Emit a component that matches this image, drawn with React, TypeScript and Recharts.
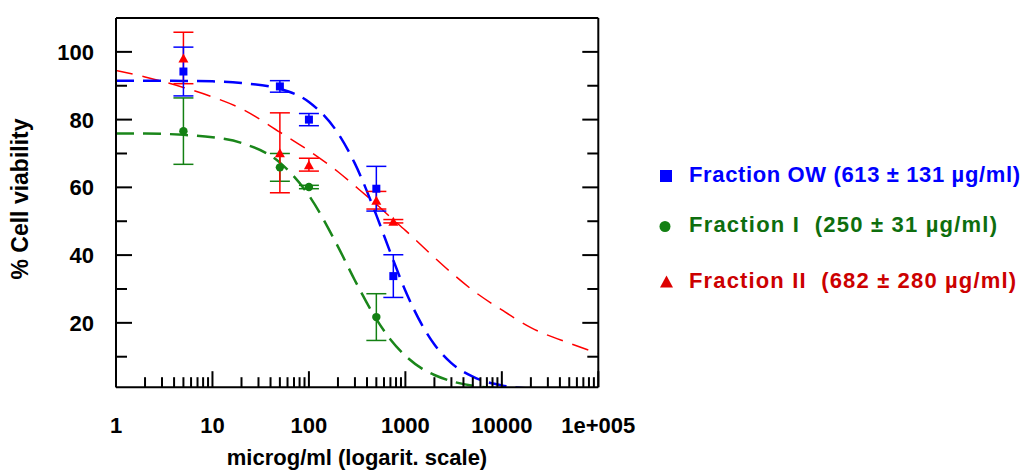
import {
  ComposedChart,
  Line,
  Scatter,
  ErrorBar,
  XAxis,
  YAxis,
  Legend,
} from "recharts";

const FONT = '"Liberation Sans", Arial, Helvetica, sans-serif';

// axis ticks
const xTicks = [
  1, 2, 3, 4, 5, 6, 7, 8, 9,
  10, 20, 30, 40, 50, 60, 70, 80, 90,
  100, 200, 300, 400, 500, 600, 700, 800, 900,
  1000, 2000, 3000, 4000, 5000, 6000, 7000, 8000, 9000,
  10000, 20000, 30000, 40000, 50000, 60000, 70000, 80000, 90000,
  100000,
];
const decadeLabels: Record<number, string> = {
  1: "1",
  10: "10",
  100: "100",
  1000: "1000",
  10000: "10000",
  100000: "1e+005",
};
const yTicks = [10, 20, 30, 40, 50, 60, 70, 80, 90, 100];
const yLabeled = [20, 40, 60, 80, 100];

// fitted curves
const curveX = [1, 2, 5, 10, 20, 50, 100, 200, 300, 500, 700, 1000, 1500, 2000, 3000, 5000, 10000, 20000, 50000, 100000];
const owCurve = [91.5, 91.5, 91.4, 91.3, 90.8, 89.1, 85.2, 76.0, 67.0, 51.8, 40.7, 29.5, 19.2, 13.6, 8.1, 4.1, 1.5, 0.6, 0.15, 0.05];
const frIcurve = [75.9, 75.9, 75.5, 74.8, 73.1, 67.3, 57.6, 42.5, 32.5, 21.1, 15.1, 10.3, 6.4, 4.6, 2.8, 1.4, 0.6, 0.24, 0.08, 0.03];
const frIIcurve = [94.5, 92.6, 89.5, 86.7, 83.2, 76.3, 70.8, 64.6, 60.4, 55.0, 51.2, 47.3, 42.6, 39.3, 34.8, 29.6, 23.8, 18.6, 14.0, 11.0];

// measured points
const owDose = [5, 50, 100, 500, 750];
const owMean = [94.2, 89.8, 80.0, 59.6, 33.8];
const owErr = [7.2, 1.7, 1.8, 6.6, 6.3];

const frIDose = [5, 50, 100, 500];
const frIMean = [76.6, 65.9, 60.1, 21.7];
const frIErr = [9.8, 4.1, 0.5, 6.9];

const frIIDose = [5, 50, 100, 500, 750];
const frIIMean = [98.2, 70.2, 66.7, 56.2, 50.0];
const frIIErr = [7.6, 11.8, 1.9, 2.6, 0.5];

const BLUE = "#0000ff";
const GREEN = "#1a861a";
const RED = "#ff0000";

const legendItems = [
  { name: "Fraction OW (613 ± 131 µg/ml)", color: "#0000ff", marker: "square", len: 331 },
  { name: "Fraction I  (250 ± 31 µg/ml)", color: "#0e6e0e", marker: "circle", len: 308 },
  { name: "Fraction II  (682 ± 280 µg/ml)", color: "#cc0000", marker: "triangle", len: 327 },
];
const legendMarkerColors = [BLUE, "#138013", "#dd0000"];

const toCurve = (ys: number[]) => curveX.map((x, i) => ({ x, y: ys[i] }));
const toPoints = (xs: number[], ys: number[], es: number[]) =>
  xs.map((x, i) => ({ x, y: ys[i], e: es[i] }));

const labelStyle = { fontFamily: FONT, fontWeight: 700, fontSize: 22, fill: "#000" };

const BottomTick = (p: any) => {
  const v = p.payload.value;
  const major = decadeLabels[v] !== undefined;
  return (
    <g>
      <line x1={p.x} x2={p.x} y1={p.y} y2={p.y - (major ? 16 : 10)} stroke="#000" strokeWidth={2} />
      {major && (
        <text x={p.x} y={p.y + 46} textAnchor="middle" style={labelStyle}>
          {decadeLabels[v]}
        </text>
      )}
    </g>
  );
};

const TopTick = (p: any) => {
  const major = decadeLabels[p.payload.value] !== undefined;
  return <line x1={p.x} x2={p.x} y1={p.y} y2={p.y + (major ? 16 : 10)} stroke="#000" strokeWidth={2} />;
};

const LeftTick = (p: any) => {
  const v = p.payload.value;
  const major = yLabeled.includes(v);
  return (
    <g>
      <line x1={p.x} x2={p.x + (major ? 16 : 11)} y1={p.y} y2={p.y} stroke="#000" strokeWidth={2} />
      {major && (
        <text x={p.x - 22} y={p.y + 8} textAnchor="end" style={labelStyle}>
          {v}
        </text>
      )}
    </g>
  );
};

const RightTick = (p: any) => {
  const major = yLabeled.includes(p.payload.value);
  return <line x1={p.x} x2={p.x - (major ? 16 : 11)} y1={p.y} y2={p.y} stroke="#000" strokeWidth={2} />;
};

const squareShape = (s: number, color: string) => (p: any) =>
  <rect x={p.cx - s / 2} y={p.cy - s / 2} width={s} height={s} fill={color} />;
const circleShape = (r: number, color: string) => (p: any) =>
  <circle cx={p.cx} cy={p.cy} r={r} fill={color} />;
const triangleShape = (w: number, h: number, color: string) => (p: any) =>
  <polygon points={`${p.cx},${p.cy - h / 2} ${p.cx + w / 2},${p.cy + h / 2} ${p.cx - w / 2},${p.cy + h / 2}`} fill={color} />;

const LegendBox = () => (
  <svg width={386} height={160}>
    {legendItems.map((it, i) => {
      const cy = [26, 76.5, 132][i];
      const base = [32.3, 82, 137.5][i];
      const mc = legendMarkerColors[i];
      return (
        <g key={it.name}>
          {it.marker === "square" && <rect x={20} y={cy - 6} width={12} height={12} fill={mc} />}
          {it.marker === "circle" && <circle cx={25} cy={cy} r={5.5} fill={mc} />}
          {it.marker === "triangle" && (
            <polygon points={`26.5,${cy - 6.5} 33,${cy + 5.5} 20,${cy + 5.5}`} fill={mc} />
          )}
          <text
            x={49}
            y={base}
            textLength={it.len}
            lengthAdjust="spacing"
            style={{ fontFamily: FONT, fontWeight: 700, fontSize: 22, fill: it.color, whiteSpace: "pre" }}
          >
            {it.name}
          </text>
        </g>
      );
    })}
  </svg>
);

export default function App() {
  return (
    <div style={{ position: "absolute", left: 0, top: 0, width: 1026, height: 474 }}>
      <ComposedChart
        width={1026}
        height={474}
        margin={{ top: 17, right: 426.7, bottom: 85.8, left: 115 }}
      >
        <XAxis
          dataKey="x"
          type="number"
          scale="log"
          domain={[1, 100000]}
          allowDataOverflow
          ticks={xTicks}
          interval={0}
          height={1}
          tickSize={0}
          tickMargin={0}
          tickLine={false}
          axisLine={{ stroke: "#000", strokeWidth: 2 }}
          tick={<BottomTick />}
        />
        <XAxis
          xAxisId="top"
          orientation="top"
          type="number"
          scale="log"
          domain={[1, 100000]}
          allowDataOverflow
          ticks={xTicks}
          interval={0}
          height={1}
          tickSize={0}
          tickMargin={0}
          tickLine={false}
          axisLine={{ stroke: "#000", strokeWidth: 2 }}
          tick={<TopTick />}
        />
        <YAxis
          dataKey="y"
          type="number"
          domain={[1, 110]}
          allowDataOverflow
          ticks={yTicks}
          interval={0}
          width={1}
          tickSize={0}
          tickMargin={0}
          tickLine={false}
          axisLine={{ stroke: "#000", strokeWidth: 2 }}
          tick={<LeftTick />}
        />
        <YAxis
          yAxisId="right"
          orientation="right"
          type="number"
          domain={[1, 110]}
          allowDataOverflow
          ticks={yTicks}
          interval={0}
          width={1}
          tickSize={0}
          tickMargin={0}
          tickLine={false}
          axisLine={{ stroke: "#000", strokeWidth: 2 }}
          tick={<RightTick />}
        />

        <Line
          data={toCurve(frIIcurve)}
          dataKey="y"
          type="monotone"
          stroke={RED}
          strokeWidth={1.5}
          strokeDasharray="17 10"
          dot={false}
          activeDot={false}
          isAnimationActive={false}
        />
        <Line
          data={toCurve(frIcurve)}
          dataKey="y"
          type="monotone"
          stroke={GREEN}
          strokeWidth={2.5}
          strokeDasharray="18 9"
          dot={false}
          activeDot={false}
          isAnimationActive={false}
        />
        <Line
          data={toCurve(owCurve)}
          dataKey="y"
          type="monotone"
          stroke={BLUE}
          strokeWidth={2.5}
          strokeDasharray="18 9"
          dot={false}
          activeDot={false}
          isAnimationActive={false}
        />

        <Scatter
          data={toPoints(frIDose, frIMean, frIErr)}
          dataKey="y"
          shape={circleShape(4.2, "#138013")}
          isAnimationActive={false}
        >
          <ErrorBar dataKey="e" direction="y" width={10} stroke="#138013" strokeWidth={1.5} />
        </Scatter>
        <Scatter
          data={toPoints(frIIDose, frIIMean, frIIErr)}
          dataKey="y"
          shape={triangleShape(10, 9, RED)}
          isAnimationActive={false}
        >
          <ErrorBar dataKey="e" direction="y" width={10} stroke={RED} strokeWidth={1.5} />
        </Scatter>
        <Scatter
          data={toPoints(owDose, owMean, owErr)}
          dataKey="y"
          shape={squareShape(8, BLUE)}
          isAnimationActive={false}
        >
          <ErrorBar dataKey="e" direction="y" width={10} stroke={BLUE} strokeWidth={1.5} />
        </Scatter>

        <Legend
          layout="vertical"
          align="center"
          verticalAlign="middle"
          content={() => <LegendBox />}
          wrapperStyle={{ left: 640, top: 150, width: 386, height: 160 }}
        />

        <text x={357} y={465} textAnchor="middle" style={labelStyle}>
          microg/ml (logarit. scale)
        </text>
        <text
          transform="translate(28, 199) rotate(-90)"
          textAnchor="middle"
          style={{ ...labelStyle, fontSize: 23 }}
        >
          % Cell viability
        </text>
      </ComposedChart>
    </div>
  );
}
